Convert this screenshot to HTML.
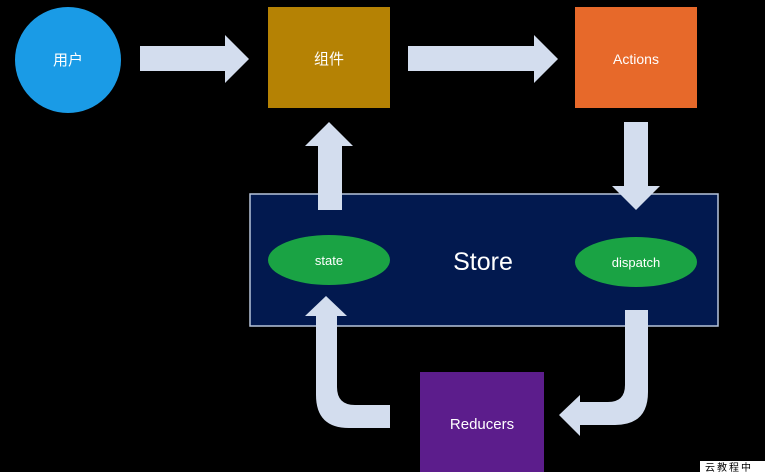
<!DOCTYPE html>
<html><head><meta charset="utf-8"><style>
body{margin:0;background:#000;width:765px;height:472px;overflow:hidden;position:relative;font-family:"Liberation Sans","Noto Sans CJK SC",sans-serif}
</style></head><body>
<svg width="765" height="472" style="position:absolute;left:0;top:0" font-family="Liberation Sans, Noto Sans CJK SC, sans-serif">
<rect width="765" height="472" fill="#000"/>
<circle cx="68" cy="60" r="53" fill="#1a9be6"/>
<text x="68" y="65" fill="#fff" font-size="15" text-anchor="middle">用户</text>
<rect x="268" y="7" width="122" height="101" fill="#b58204"/>
<text x="329" y="64" fill="#fff" font-size="15" text-anchor="middle">组件</text>
<rect x="575" y="7" width="122" height="101" fill="#e7692a"/>
<text x="636" y="64" fill="#fff" font-size="14" text-anchor="middle">Actions</text>
<polygon points="140,46 225,46 225,35 249,59 225,83 225,71 140,71" fill="#d3ddee"/>
<polygon points="408,46 534,46 534,35 558,59 534,83 534,71 408,71" fill="#d3ddee"/>
<rect x="250" y="194" width="468" height="132" fill="#02194f" stroke="#b8c6dc" stroke-width="1.5"/>
<polygon points="318,210 318,146 305,146 329,122 353,146 342,146 342,210" fill="#d3ddee"/>
<polygon points="624,122 648,122 648,186 660,186 636,210 612,186 624,186" fill="#d3ddee"/>
<ellipse cx="329" cy="260" rx="61" ry="25" fill="#1aa344"/>
<text x="329" y="265" fill="#fff" font-size="13" text-anchor="middle">state</text>
<ellipse cx="636" cy="262" rx="61" ry="25" fill="#1aa344"/>
<text x="636" y="267" fill="#fff" font-size="13" text-anchor="middle">dispatch</text>
<text x="483" y="270" fill="#fff" font-size="25" text-anchor="middle">Store</text>
<rect x="420" y="372" width="124" height="100" fill="#5c1d8c"/>
<text x="482" y="429" fill="#fff" font-size="15" text-anchor="middle">Reducers</text>
<path d="M390,405 L355,405 Q337,405 337,387 L337,316 L347,316 L326,296 L305,316 L316,316 L316,395 Q316,428 349,428 L390,428 Z" fill="#d3ddee"/>
<path d="M625,310 L648,310 L648,392 Q648,425 615,425 L580,425 L580,436 L559,415 L580,395 L580,402 L608,402 Q625,402 625,385 Z" fill="#d3ddee"/>
<rect x="700" y="461" width="65" height="11" fill="#fff"/>
<text x="705" y="471" fill="#000" font-size="10" letter-spacing="2">云教程中</text>
</svg>
</body></html>
